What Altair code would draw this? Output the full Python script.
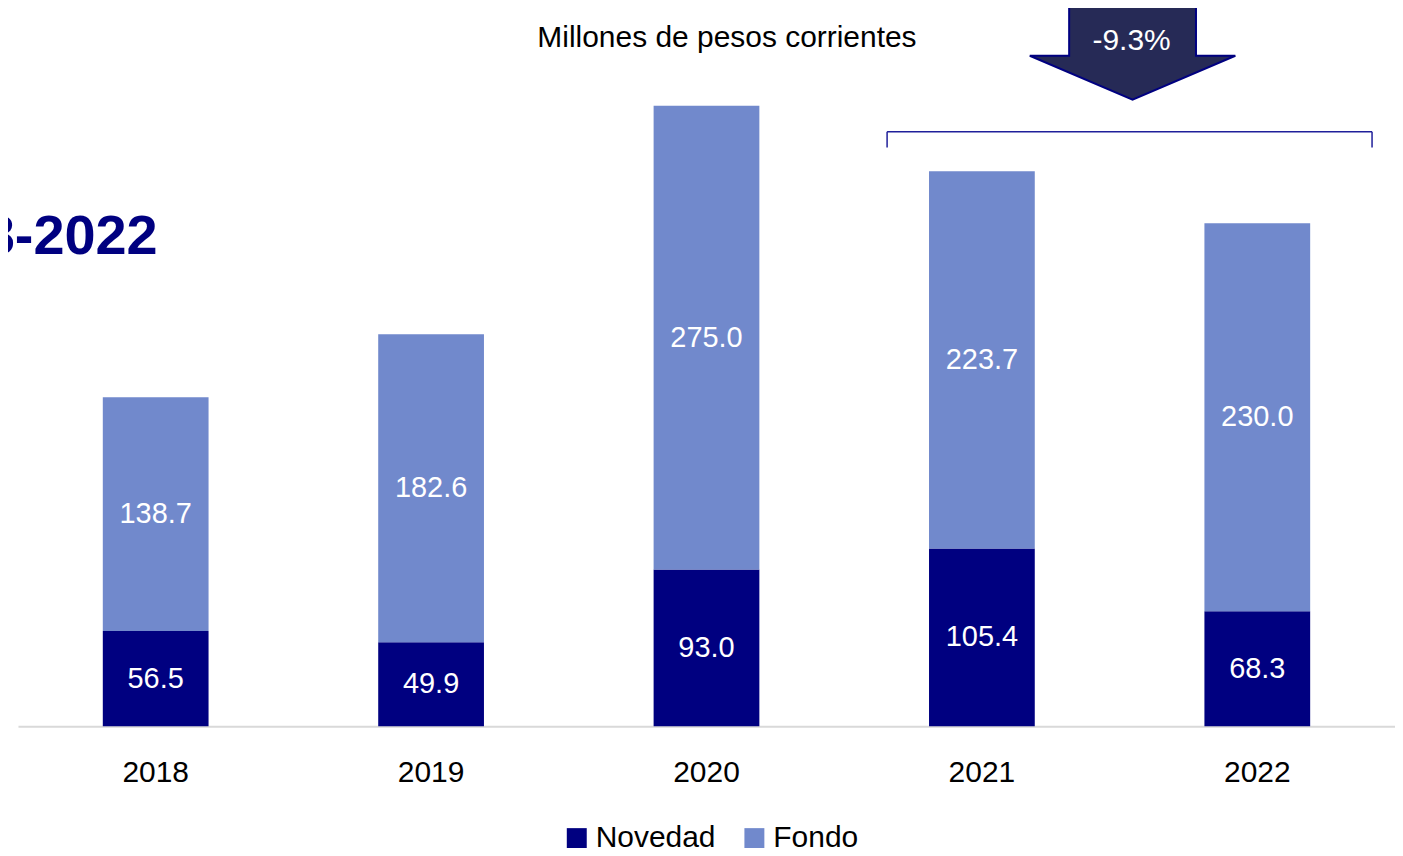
import altair as alt
import pandas as pd

years = ["2018", "2019", "2020", "2021", "2022"]
novedad = [56.5, 49.9, 93.0, 105.4, 68.3]
fondo = [138.7, 182.6, 275.0, 223.7, 230.0]
series = ["Novedad", "Fondo"]
colors = ["#000080", "#7189CC"]

title_text = "Millones de pesos corrientes"
change_text = "-9.3%"
left_text = "2018-2022"

rows = []
for i, y in enumerate(years):
    rows.append({"year": y, "serie": "Novedad", "value": novedad[i], "ord": 0})
    rows.append({"year": y, "serie": "Fondo", "value": fondo[i], "ord": 1})
df = pd.DataFrame(rows)

FONT = "Liberation Sans, Arial, sans-serif"
W, H = 1380, 719

base = alt.Chart(df).transform_stack(
    stack="value", groupby=["year"], as_=["y0", "y1"],
    sort=[alt.SortField("ord", order="ascending")]
).transform_calculate(mid="(datum.y0 + datum.y1) / 2")

xenc = alt.X("year:N", sort=years, title=None,
             scale=alt.Scale(paddingInner=0.616, paddingOuter=0.308),
             axis=alt.Axis(labelAngle=0, labelFontSize=30, labelFont=FONT,
                           labelColor="#000000", labelPadding=31, ticks=False,
                           domainColor="#D9D9D9", domainWidth=2, grid=False))
yscale = alt.Scale(domain=[0, 425.4], nice=False, zero=True)

bars = base.mark_bar().encode(
    x=xenc,
    y=alt.Y("y0:Q", scale=yscale, axis=None),
    y2="y1:Q",
    color=alt.Color("serie:N", scale=alt.Scale(domain=series, range=colors),
                    legend=alt.Legend(title=None, orient="none", legendX=545, legendY=816,
                                      direction="horizontal", symbolType="square",
                                      symbolSize=400, symbolStrokeWidth=0,
                                      labelFontSize=30, labelFont=FONT, labelColor="#000000",
                                      columnPadding=23, labelOffset=4, padding=0)),
)

labels = base.mark_text(color="white", fontSize=29, font=FONT, baseline="middle").encode(
    x=alt.X("year:N", sort=years),
    y=alt.Y("mid:Q", scale=yscale),
    text=alt.Text("value:Q", format=".1f"),
)

dummy = alt.Chart(pd.DataFrame({"a": [0]}))

title = dummy.mark_text(text=title_text, fontSize=30, font=FONT, color="#000000",
                        align="center", baseline="middle").encode(
    x=alt.value(710.5), y=alt.value(29))

arrow_path = "M -0.617 -0.451 L 0.617 -0.451 L 0.617 0.024 L 1 0.024 L 0 0.451 L -1 0.024 L -0.617 0.024 Z"
arrow = dummy.mark_point(shape=arrow_path, size=42436, filled=True, fill="#262A56",
                         stroke="#000080", strokeWidth=2, opacity=1).encode(
    x=alt.value(1117), y=alt.value(44.5))

change = dummy.mark_text(text=change_text, fontSize=30, font=FONT, color="white",
                         align="center", baseline="middle").encode(
    x=alt.value(1116), y=alt.value(32))

bcol = "#1F1F9A"
br_h = dummy.mark_rule(color=bcol, strokeWidth=1.5).encode(
    x=alt.value(871), x2=alt.value(1357), y=alt.value(123))
br_l = dummy.mark_rule(color=bcol, strokeWidth=1.5).encode(
    x=alt.value(871), y=alt.value(123), y2=alt.value(139))
br_r = dummy.mark_rule(color=bcol, strokeWidth=1.5).encode(
    x=alt.value(1357), y=alt.value(123), y2=alt.value(139))

left = dummy.mark_text(text=left_text, fontSize=56, fontWeight="bold", font=FONT,
                       color="#000080", align="right", baseline="middle").encode(
    x=alt.value(140), y=alt.value(229))

chart = alt.layer(bars, labels, title, arrow, change, br_h, br_l, br_r, left).properties(
    width=W, height=H,
    background="white",
    autosize=alt.AutoSizeParams(type="none"),
    padding={"left": 10, "top": 0, "right": 0, "bottom": 121},
).configure_view(stroke=None)

chart.save("out.html", embed_options={"renderer": "svg", "actions": False})
